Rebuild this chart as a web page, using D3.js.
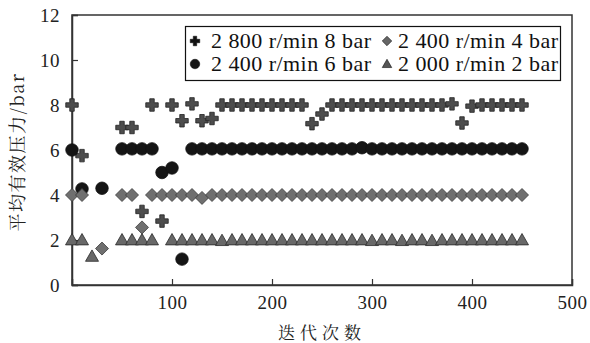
<!DOCTYPE html>
<html><head><meta charset="utf-8">
<script src="https://cdn.jsdelivr.net/npm/d3@7"></script>
<style>body{margin:0;background:#fff} .serif{font-family:"Liberation Serif","DejaVu Serif","Times New Roman",serif}</style>
</head><body>
<svg id="c" width="590" height="343"></svg>
<script>
// Data (iteration, mean effective pressure / bar)
const s2800_8_x = [0,10,50,60,70,80,90,100,110,120,130,140,150,160,170,180,190,200,210,220,230,240,250,260,270,280,290,300,310,320,330,340,350,360,370,380,390,400,410,420,430,440,450];
const s2800_8_y = [8,5.75,7.0,7.0,3.27,8,2.84,8,7.3,8.05,7.3,7.4,8,8,8,8,8,8,8,8,8,7.17,7.6,8,8,8,8,8,8,8,8,8,8,8,8,8.05,7.2,7.95,8,8,8,8,8];
const s2400_6_x = [0,10,30,50,60,70,80,90,100,110,120,130,140,150,160,170,180,190,200,210,220,230,240,250,260,270,280,290,300,310,320,330,340,350,360,370,380,390,400,410,420,430,440,450];
const s2400_6_y = [6,4.27,4.3,6.05,6.05,6.05,6.05,5.0,5.2,1.15,6.05,6.05,6.05,6.05,6.05,6.05,6.05,6.05,6.05,6.05,6.05,6.05,6.05,6.05,6.05,6.05,6.05,6.1,6.05,6.05,6.05,6.05,6.05,6.05,6.05,6.05,6.05,6.05,6.05,6.05,6.05,6.05,6.05,6.05];
const s2400_4_x = [0,10,30,50,60,70,80,90,100,110,120,130,140,150,160,170,180,190,200,210,220,230,240,250,260,270,280,290,300,310,320,330,340,350,360,370,380,390,400,410,420,430,440,450];
const s2400_4_y = [4,4,1.62,4,4,2.56,4,4,4,4,4,3.87,4,4,4,4,4,4,4,4,4,4,4,4,4,4,4,4,4,4,4,4,4,4,4,4,4,4,4,4,4,4,4,4];
const s2000_2_x = [0,10,20,50,60,70,80,100,110,120,130,140,150,160,170,180,190,200,210,220,230,240,250,260,270,280,290,300,310,320,330,340,350,360,370,380,390,400,410,420,430,440,450];
const s2000_2_y = [2,2,1.27,2,2,2,2,2,2,2,2,2,1.97,2,2,2,2,2,2,2,2,2,2,2,2,2,2,1.97,2,2,1.97,2,2,1.97,2,2,2,2,2,2,2,2,2];
const xTicks = [100,200,300,400,500];
const yTicks = [0,2,4,6,8,10,12];
const legendLabels = ["2 800 r/min 8 bar","2 400 r/min 4 bar","2 400 r/min 6 bar","2 000 r/min 2 bar"];

const svg = d3.select("#c");
const L=72, R=572, T=15, B=285;
const x = d3.scaleLinear().domain([0,500]).range([L,R]);
const y = d3.scaleLinear().domain([0,12]).range([B,T]);

const plusT = {draw(ctx,size){const w=Math.sqrt(size)/2, t=w*0.36; ctx.moveTo(-t,-w);ctx.lineTo(t,-w);ctx.lineTo(t,-t);ctx.lineTo(w,-t);ctx.lineTo(w,t);ctx.lineTo(t,t);ctx.lineTo(t,w);ctx.lineTo(-t,w);ctx.lineTo(-t,t);ctx.lineTo(-w,t);ctx.lineTo(-w,-t);ctx.lineTo(-t,-t);ctx.closePath();}};
const diamT = {draw(ctx,size){const w=Math.sqrt(size)/2; ctx.moveTo(0,-w);ctx.lineTo(w,0);ctx.lineTo(0,w);ctx.lineTo(-w,0);ctx.closePath();}};
const triT = {draw(ctx,size){const w=Math.sqrt(size)/2; ctx.moveTo(0,-w);ctx.lineTo(w,w*0.75);ctx.lineTo(-w,w*0.75);ctx.closePath();}};
const circT = {draw(ctx,size){const r=Math.sqrt(size)/2; ctx.moveTo(r,0);ctx.arc(0,0,r,0,2*Math.PI);}};

const series = [
  {xs:s2800_8_x, ys:s2800_8_y, type:plusT, size:156, fill:"#4d4d4d", stroke:"#222", lf:"#111"},
  {xs:s2400_6_x, ys:s2400_6_y, type:circT, size:156, fill:"#151515", stroke:"#111", lf:"#151515"},
  {xs:s2400_4_x, ys:s2400_4_y, type:diamT, size:169, fill:"#6f6f6f", stroke:"#3a3a3a", lf:"#666"},
  {xs:s2000_2_x, ys:s2000_2_y, type:triT, size:169, fill:"#686868", stroke:"#2a2a2a", lf:"#555"}
];

svg.append("rect").attr("x",L).attr("y",T).attr("width",R-L).attr("height",B-T)
  .attr("fill","none").attr("stroke","#333").attr("stroke-width",1.5);

const xa = svg.append("g").attr("transform",`translate(0,${B})`)
  .call(d3.axisBottom(x).tickValues(xTicks).tickSize(-6).tickPadding(11));
const ya = svg.append("g").attr("transform",`translate(${L},0)`)
  .call(d3.axisLeft(y).tickValues(yTicks).tickSize(-6).tickPadding(12));
[xa,ya].forEach(g=>{g.attr("font-family",null).attr("font-size",null);
  g.select(".domain").attr("stroke","#333").attr("stroke-width",1.5);
  g.selectAll(".tick line").attr("stroke","#333").attr("stroke-width",1.2);
  g.selectAll("text").attr("class","serif").style("font-size","19px").attr("letter-spacing",0.5).attr("fill","#222");});

series.forEach(s=>{
  const sym = d3.symbol().type(s.type).size(s.size);
  svg.append("g").selectAll("path").data(s.xs.map((v,i)=>[v,s.ys[i]])).join("path")
    .attr("transform",d=>`translate(${x(d[0])},${y(d[1])})`)
    .attr("d",sym).attr("fill",s.fill).attr("stroke",s.stroke).attr("stroke-width",0.8);
});

const lg = svg.append("g");
lg.append("rect").attr("x",185.5).attr("y",26.5).attr("width",375).attr("height",54)
  .attr("fill","#fff").attr("stroke","#111").attr("stroke-width",1.2);
const legPos = [[195,41,211],[387,41,398],[195,64,211],[387,64,398]];
const legSeries = [series[0],series[2],series[1],series[3]];
legPos.forEach((p,i)=>{
  const s = legSeries[i];
  lg.append("path").attr("transform",`translate(${p[0]},${p[1]})`)
    .attr("d",d3.symbol().type(s.type).size(90)()).attr("fill",s.lf).attr("stroke","#111").attr("stroke-width",0.6);
  lg.append("text").attr("x",p[2]).attr("y",p[1]+7).text(legendLabels[i])
    .attr("class","serif").style("font-size","22px").attr("letter-spacing",0.45).attr("fill","#111");
});

svg.append("text").attr("x",322).attr("y",339).attr("text-anchor","middle")
  .style("font-family","'Noto Serif CJK SC','Noto Sans CJK SC',sans-serif").style("font-size","17px").attr("letter-spacing",5)
  .attr("fill","#222").text("迭代次数");
svg.append("text").attr("transform","translate(24,152) rotate(-90)").attr("text-anchor","middle")
  .style("font-family","'Noto Serif CJK SC','Noto Sans CJK SC',sans-serif").style("font-size","18px").attr("letter-spacing",1.5).attr("fill","#222")
  .text("平均有效压力/bar");
</script>
</body></html>
